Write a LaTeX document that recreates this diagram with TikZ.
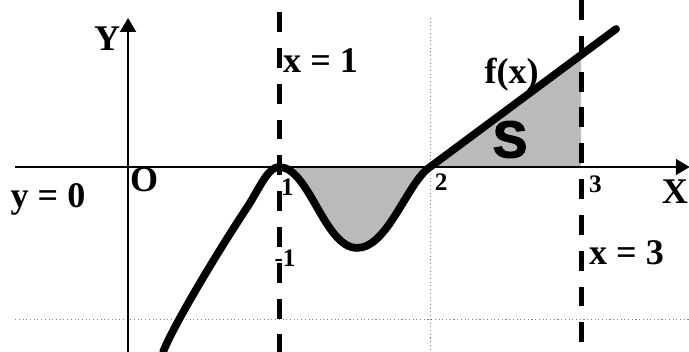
\documentclass[tikz,border=0pt]{standalone}
\usepackage{fontspec}
\setmainfont{Liberation Serif}
\newfontfamily\heavysans[FakeBold=2.5]{Liberation Sans Bold}
\usepackage{tikz}
\usetikzlibrary{arrows.meta}
\tikzset{
  axis/.style={line width=0.8pt, -{Triangle[length=0.185cm, width=0.21cm]}},
  boundline/.style={line width=1.9pt, dash pattern=on 7.5pt off 6pt},
  gridline/.style={gray, line width=0.4pt, densely dotted},
  curve/.style={line width=2.9pt, line join=round, line cap=round},
  area/.style={fill=black!27},
  lbl/.style={font=\fontsize{13.6}{16}\selectfont\bfseries, inner sep=0pt},
  ticklbl/.style={font=\fontsize{9.5}{11}\selectfont\bfseries, inner sep=0pt}
}

\begin{document}
\begin{tikzpicture}[x=2cm, y=2cm]
  \useasboundingbox (-0.848,-1.225) rectangle (3.715,1.106);
  % Key points
  \coordinate (O) at (0,0);
  \coordinate (P1) at (1,0);
  \coordinate (P2) at (2,0);
  \coordinate (P3) at (3,0);
  \coordinate (Fmin) at (1.517,-0.536);
  \coordinate (F3) at (3,0.743);
  \coordinate (Fend) at (3.232,0.914);

  % Grid lines
  \draw[gridline] (2,0.987) -- (2,-1.225);
  \draw[gridline] (-0.748,-1.007) -- (3.715,-1.007);

  % Shaded area S
  \fill[area] (P1) .. controls (1.2,0) and (1.3,-0.536) .. (Fmin)
    .. controls (1.72,-0.536) and (1.85,-0.1) .. (P2) -- cycle;
  \fill[area] (P2) -- (F3) -- (P3) -- cycle;

  % Axes
  \draw[axis] (-0.748,0) -- (3.72,0);
  \draw[axis] (0,-1.225) -- (0,0.987);

  % Bounds x = 1 and x = 3
  \draw[boundline] (1,1.026) -- (1,-1.225);
  \draw[boundline] (3,1.106) -- (3,-1.225);

  % Graph of f
  \draw[curve] (0.232,-1.225) .. controls (0.3,-1.05) and (0.6,-0.55) .. (0.8,-0.25)
    .. controls (0.88,-0.12) and (0.93,0) .. (P1)
    .. controls (1.2,0) and (1.3,-0.536) .. (Fmin)
    .. controls (1.72,-0.536) and (1.85,-0.1) .. (P2) -- (Fend);

  % Labels
  \node[lbl] (ylab) at (-0.139,0.848) {Y};
  \node[lbl, anchor=east] (xlab) at (3.712,-0.166) {X};
  \node[lbl] (olab) at (0.106,-0.086) {O};
  \node[lbl] (yzero) at (-0.53,-0.212) {y = 0};
  \node[lbl] (xone) at (1.275,0.705) {x = 1};
  \node[lbl] (xthree) at (3.301,-0.57) {x = 3};
  \node[lbl] (flab) at (2.54,0.609) {f(x)};
  \node[font=\heavysans\fontsize{19.5}{21}\selectfont, inner sep=0pt] (S) at (2.53,0.182) {S};
  \node[ticklbl] (tone) at (1.056,-0.136) {1};
  \node[ticklbl] (ttwo) at (2.073,-0.103) {2};
  \node[ticklbl] (tthree) at (3.096,-0.113) {3};
  \node[ticklbl] (tmone) at (1.04,-0.603) {-1};
\end{tikzpicture}
\end{document}
